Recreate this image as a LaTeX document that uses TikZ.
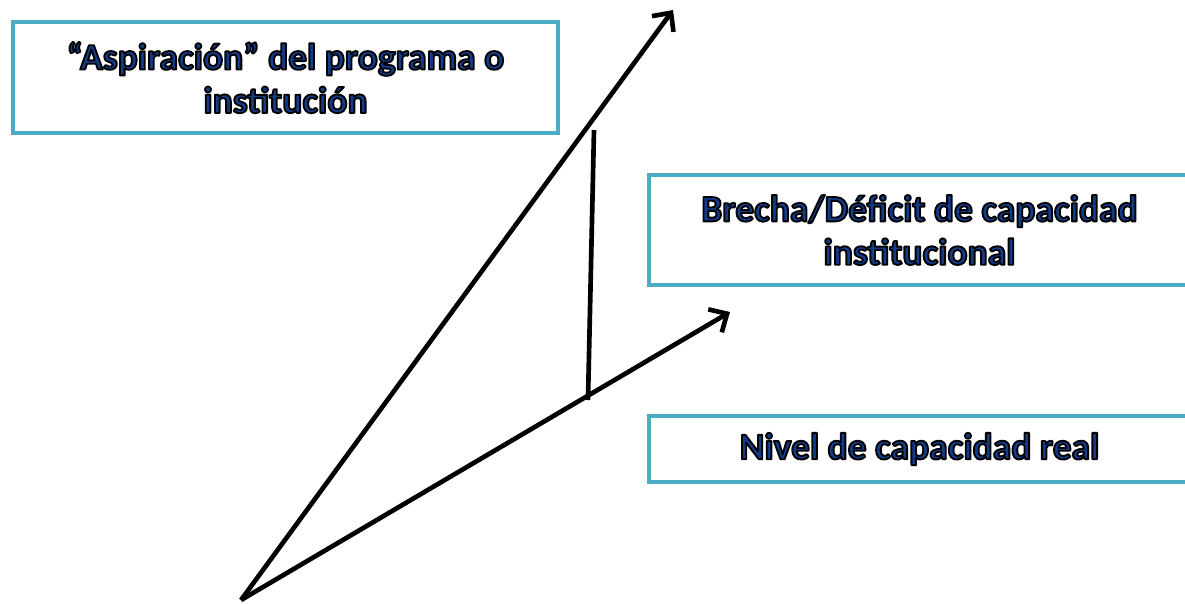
\documentclass[tikz,border=0pt]{standalone}
\usepackage{fontspec}
\setmainfont{Carlito}
\usetikzlibrary{arrows.meta}
\definecolor{boxblue}{HTML}{4BACC6}
\definecolor{textblue}{HTML}{123C8C}
\newcommand{\lbl}[1]{\special{pdf:literal direct 2 Tr 1.6 w 1 j 0 G}#1\special{pdf:literal direct 0 Tr}}

\begin{document}
\begin{tikzpicture}[x=0.03cm, y=-0.03cm]
    \useasboundingbox (0,0) rectangle (1185,603);
    \begin{scope}[box/.style={draw=boxblue, line width=0.11cm, fill=white, align=center, text=textblue, font=\bfseries\fontsize{32}{37}\selectfont},line width=0.14cm]
        \node[box, minimum width=16.35cm, minimum height=3.33cm] (asp) at (285.5, 77.5) {\lbl{“Aspiración” del programa o}\\\lbl{institución}};
        \node[box, minimum width=16.23cm, minimum height=3.3cm] (gap) at (919.5, 230) {\lbl{Brecha/Déficit de capacidad}\\\lbl{institucional}};
        \node[box, minimum width=16.23cm, minimum height=1.98cm] (real) at (919.5, 449) {\lbl{Nivel de capacidad real}};
        \coordinate (o) at (241, 600);
        \coordinate (up) at (673, 10);
        \coordinate (low) at (730, 312);
        \coordinate (gtop) at (594, 130);
        \coordinate (gbot) at (588, 400);
        \begin{scope}[>={Straight Barb[length=0.42cm, width=0.8cm]}]
        \path[->] (o) edge (up) ;
        \path[->] (o) edge (low) ;
        \end{scope}
        \draw (gtop) -- (gbot);
    \end{scope}
\end{tikzpicture}
\end{document}
